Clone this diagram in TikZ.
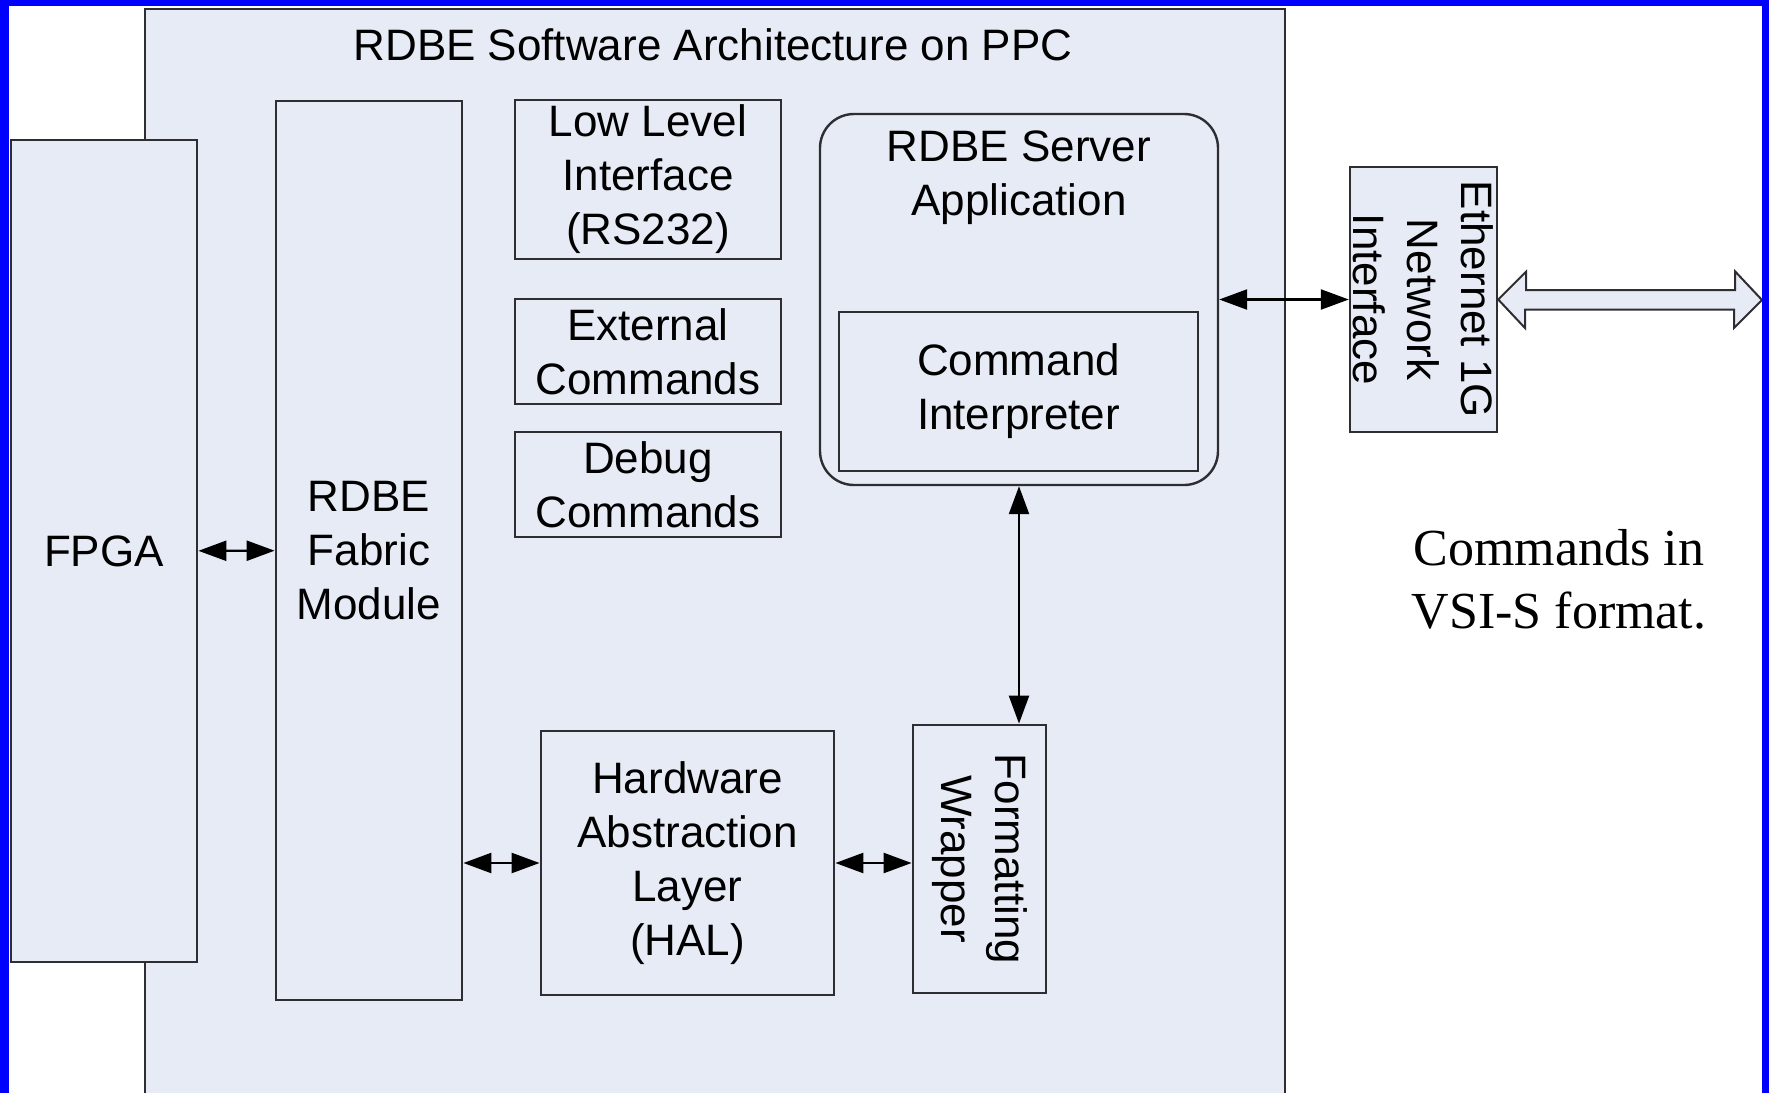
\documentclass[tikz,border=0pt]{standalone}
\usepackage{fontspec}
\setmainfont{Liberation Sans}
\newfontfamily\notefamily{Liberation Serif}
\usetikzlibrary{arrows.meta}

\definecolor{panel}{RGB}{230,235,246}
\definecolor{edge}{RGB}{45,45,50}
\definecolor{frameblue}{RGB}{0,0,255}

\newcommand\lblfont{\fontsize{22pt}{27pt}\selectfont}
\newcommand\notefont{\notefamily\fontsize{26pt}{31.5pt}\selectfont}

\tikzset{
  blk/.style={draw=edge, line width=1.4pt, fill=panel, inner sep=0pt,
              align=center, font=\lblfont},
  lbl/.style={inner sep=0pt, align=center, font=\lblfont},
  conn/.style={line width=1.2pt, draw=black,
               {Triangle[length=14pt,width=10pt]}-{Triangle[length=14pt,width=10pt]}},
  hollow/.style={draw=edge, line width=1pt, fill=panel, line join=miter},
}

\begin{document}
\begin{tikzpicture}[x=0.5pt, y=-0.5pt]
  \useasboundingbox (0,0) rectangle (1769,1093);
  \clip (0,0) rectangle (1769,1093);

  % PPC panel with its title
  \node[blk, line width=1.2pt, anchor=north west, minimum width=570pt,
        minimum height=560pt] (ppc) at (144,8) {};
  \node[lbl] (title) at (713,45) {RDBE Software Architecture on PPC};

  % FPGA and fabric module
  \node[blk, minimum width=93pt, minimum height=411pt] (fpga) at (104,551) {FPGA};
  \node[blk, minimum width=93pt, minimum height=449.5pt] (fabric) at (369,550.5)
       {RDBE\\Fabric\\Module};

  % command sources
  \node[blk, minimum width=133pt, minimum height=79.5pt] (lowlevel) at (648,179.5)
       {Low Level\\Interface\\(RS232)};
  \node[blk, minimum width=133pt, minimum height=52.5pt] (external) at (648,351.5)
       {External\\Commands};
  \node[blk, minimum width=133pt, minimum height=52.5pt] (debug) at (648,484.5)
       {Debug\\Commands};

  % server application
  \node[blk, line width=1.2pt, rounded corners=17pt, minimum width=199pt,
        minimum height=185.5pt] (server) at (1019,299.5) {};
  \node[lbl] (servertext) at (1019,178) {RDBE Server\\Application};
  \node[blk, minimum width=179.5pt, minimum height=79.5pt] (cmd) at (1018.5,391.5)
       {Command\\Interpreter};

  % hardware abstraction and formatting
  \node[blk, minimum width=146.5pt, minimum height=132pt] (hal) at (687.5,863)
       {Hardware\\Abstraction\\Layer\\(HAL)};
  \node[blk, minimum width=66.5pt, minimum height=134pt] (fmt) at (979.5,859) {};
  \node[lbl, rotate=-90] (fmttext) at (fmt.center) {Formatting\\Wrapper};

  % network interface
  \node[blk, line width=1.2pt, minimum width=73.5pt, minimum height=132.5pt]
       (eth) at (1423.5,299.5) {};
  \node[lbl, rotate=-90] (ethtext) at (eth.center) {Ethernet 1G\\Network\\Interface};

  % connectors
  \draw[conn] (fpga) -- (fabric);
  \draw[conn] (fabric.east |- hal.west) -- (hal.west);
  \draw[conn] (hal.east) -- (hal.east -| fmt.west);
  \draw[conn] (server.east) -- (eth.west);
  \draw[conn] (server.south) -- (server.south |- fmt.north);

  % external link
  \coordinate (net) at (1762,300);
  \draw[hollow] (eth.east) -- ++(28,-28) -- ++(0,18.5) -- ++(209,0) -- ++(0,-18.5)
       -- (net) -- ++(-28,28) -- ++(0,-18.5) -- ++(-209,0) -- ++(0,18.5) -- cycle;

  \node[inner sep=0pt, align=center, font=\notefont] (note) at (1559,579)
       {Commands in\\VSI-S format.};

  % slide frame
  \fill[frameblue] (0,0) rectangle (9,1093);
  \fill[frameblue] (0,0) rectangle (1769,6);
  \fill[frameblue] (1762,0) rectangle (1769,1093);
\end{tikzpicture}
\end{document}
